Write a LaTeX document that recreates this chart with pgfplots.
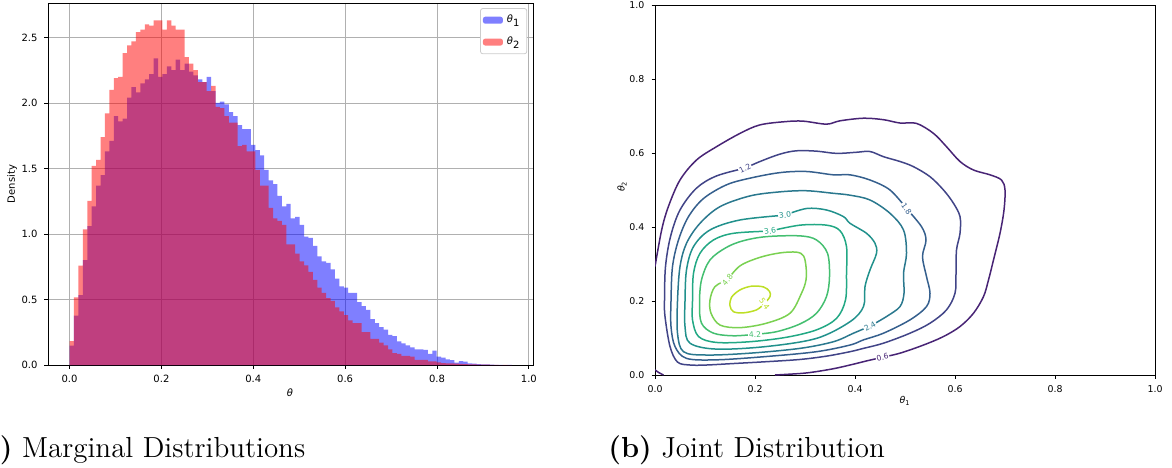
\documentclass[border=0pt]{standalone}
\usepackage{fontspec}
\usepackage{pgfplots}
\usepackage{pgfplotstable}
\pgfplotsset{compat=1.18}
\newfontfamily\mpl{DejaVu Sans}
\definecolor{gridc}{HTML}{B0B0B0}
\definecolor{legc}{HTML}{CCCCCC}
\definecolor{cA}{HTML}{482475}
\definecolor{cB}{HTML}{414487}
\definecolor{cC}{HTML}{355F8D}
\definecolor{cD}{HTML}{2A788E}
\definecolor{cE}{HTML}{21918C}
\definecolor{cF}{HTML}{22A884}
\definecolor{cG}{HTML}{44BF70}
\definecolor{cH}{HTML}{7AD151}
\definecolor{cI}{HTML}{BDDF26}

\pgfplotstableread{
x r b
0.0000 0.183 0.147
0.0096 0.517 0.377
0.0193 0.758 0.534
0.0289 1.036 0.800
0.0385 1.252 1.060
0.0482 1.520 1.210
0.0578 1.565 1.370
0.0674 1.740 1.450
0.0770 1.920 1.630
0.0867 2.100 1.710
0.0963 2.190 1.900
0.1059 2.200 1.860
0.1156 2.380 1.880
0.1252 2.440 2.040
0.1348 2.470 2.120
0.1445 2.540 2.080
0.1541 2.560 2.150
0.1637 2.600 2.180
0.1733 2.590 2.220
0.1830 2.630 2.340
0.1926 2.630 2.200
0.2022 2.560 2.220
0.2119 2.630 2.280
0.2215 2.590 2.250
0.2311 2.560 2.330
0.2408 2.560 2.250
0.2504 2.350 2.300
0.2600 2.300 2.240
0.2696 2.250 2.210
0.2793 2.160 2.180
0.2889 2.160 2.160
0.2985 2.090 2.200
0.3082 2.130 2.090
0.3178 1.970 2.000
0.3274 1.960 2.010
0.3371 1.900 1.990
0.3467 1.850 1.930
0.3563 1.850 1.900
0.3659 1.670 1.830
0.3756 1.680 1.800
0.3852 1.630 1.800
0.3948 1.630 1.680
0.4045 1.490 1.640
0.4141 1.370 1.600
0.4237 1.370 1.490
0.4334 1.200 1.410
0.4430 1.120 1.380
0.4526 1.100 1.290
0.4622 1.070 1.210
0.4719 0.920 1.230
0.4815 0.920 1.120
0.4911 0.850 1.130
0.5008 0.790 1.070
0.5104 0.760 0.980
0.5200 0.710 0.970
0.5297 0.650 0.910
0.5393 0.590 0.830
0.5489 0.550 0.790
0.5585 0.510 0.780
0.5682 0.490 0.730
0.5778 0.440 0.660
0.5874 0.410 0.600
0.5971 0.380 0.590
0.6067 0.340 0.550
0.6163 0.320 0.550
0.6260 0.320 0.480
0.6356 0.250 0.450
0.6452 0.250 0.420
0.6548 0.200 0.350
0.6645 0.200 0.320
0.6741 0.170 0.290
0.6837 0.150 0.270
0.6934 0.120 0.230
0.7030 0.090 0.220
0.7126 0.084 0.180
0.7223 0.070 0.165
0.7319 0.070 0.150
0.7415 0.064 0.135
0.7511 0.040 0.120
0.7608 0.040 0.120
0.7704 0.040 0.115
0.7800 0.028 0.084
0.7897 0.028 0.110
0.7993 0.020 0.064
0.8089 0.015 0.056
0.8186 0.013 0.043
0.8282 0.013 0.038
0.8378 0.010 0.018
0.8474 0.008 0.030
0.8571 0.006 0.025
0.8667 0.005 0.013
0.8763 0.004 0.010
0.8860 0.003 0.006
0.8956 0.002 0.005
0.9052 0.002 0.004
0.9149 0.001 0.002
0.9245 0.001 0.001
0.9341 0.000 0.001
0.9437 0.001 0.000
0.9534 0.000 0.001
0.9630 0.000 0.000
}\hist

\pgfplotsset{
  mplax/.style={
    scale only axis,
    axis line style={line width=0.4pt, black},
    tick align=outside, tick pos=left,
    major tick length=1.75pt,
    every tick/.style={black, line width=0.4pt},
    /pgf/number format/assume math mode=true,
  },
  cl/.style={line width=0.75pt, smooth, tension=0.55},
}
\tikzset{clab/.style={fill=white, inner sep=0.4pt, font=\mpl\fontsize{3.8}{4}\selectfont}}

\begin{document}
\begin{tikzpicture}
\path[use as bounding box] (0,0) rectangle (586pt,233.5pt);

% ---------------- (a) marginal distributions ----------------
\begin{axis}[mplax,
  at={(24pt,51pt)}, anchor=south west,
  width=242.5pt, height=181pt,
  xmin=-0.047, xmax=1.009, ymin=0, ymax=2.763,
  xtick={0,0.2,0.4,0.6,0.8,1.0},
  xticklabels={0.0,0.2,0.4,0.6,0.8,1.0},
  ytick={0,0.5,1.0,1.5,2.0,2.5},
  yticklabels={0.0,0.5,1.0,1.5,2.0,2.5},
  tick label style={font=\mpl\fontsize{5}{6}\selectfont},
  grid=major, grid style={gridc, line width=0.4pt},
  xlabel={\mpl\itshape θ},
  xlabel style={at={(axis description cs:0.499,-0.077)}, anchor=center, font=\fontsize{5}{6}\selectfont},
  ylabel={\mpl Density},
  ylabel style={at={(axis description cs:-0.074,0.5)}, anchor=center, rotate=0, font=\fontsize{5}{6}\selectfont},
  legend style={at={(0.988,0.986)}, anchor=north east, draw=legc, line width=0.4pt,
    rounded corners=1.2pt, fill=white, font=\mpl\fontsize{5}{6}\selectfont,
    inner sep=1.2pt, row sep=1.6pt, cells={anchor=west}},
  legend image code/.code={\fill[#1] (0pt,-1.75pt) rectangle (10pt,1.75pt);},
]
\addplot[const plot mark left, fill=blue, fill opacity=0.5, draw=none] table[x=x, y=b] {\hist} \closedcycle;
\addlegendentry{{\itshape θ}\textsubscript{1}}
\addplot[const plot mark left, fill=red, fill opacity=0.5, draw=none] table[x=x, y=r] {\hist} \closedcycle;
\addlegendentry{{\itshape θ}\textsubscript{2}}
\end{axis}

% ---------------- (b) joint distribution ----------------
\begin{axis}[mplax,
  at={(327.5pt,46pt)}, anchor=south west,
  width=250pt, height=185pt,
  xmin=0, xmax=1, ymin=0, ymax=1,
  xtick={0,0.2,0.4,0.6,0.8,1.0},
  xticklabels={0.0,0.2,0.4,0.6,0.8,1.0},
  ytick={0,0.2,0.4,0.6,0.8,1.0},
  yticklabels={0.0,0.2,0.4,0.6,0.8,1.0},
  tick label style={font=\mpl\fontsize{4.7}{5.6}\selectfont},
  xlabel={\mpl{\itshape θ}\textsubscript{1}},
  xlabel style={at={(axis description cs:0.5,-0.07)}, anchor=center, font=\fontsize{4.7}{5.6}\selectfont},
  ylabel={\mpl{\itshape θ}\textsubscript{2}},
  ylabel style={at={(axis description cs:-0.066,0.51)}, anchor=center, rotate=0, font=\fontsize{4.7}{5.6}\selectfont},
]
% level 0.6
\addplot[cl, cA] coordinates {
(0,0.293) (0.0133,0.392) (0.0267,0.455) (0.05,0.527) (0.083,0.581) (0.123,0.617)
(0.17,0.653) (0.21,0.676) (0.263,0.685) (0.297,0.686) (0.343,0.678) (0.37,0.687)
(0.417,0.694) (0.457,0.690) (0.49,0.681) (0.523,0.680) (0.557,0.653) (0.583,0.617)
(0.61,0.577) (0.637,0.554) (0.67,0.541) (0.693,0.527) (0.700,0.500) (0.698,0.446)
(0.690,0.383) (0.677,0.311) (0.667,0.257) (0.657,0.212) (0.637,0.167) (0.61,0.131)
(0.577,0.104) (0.537,0.081) (0.49,0.059) (0.455,0.048) (0.423,0.038) (0.39,0.027)
(0.357,0.017) (0.317,0.008) (0.29,0.004) (0.24,0.0)
};
\addplot[cl, cA] coordinates {(0,0.014) (0.007,0.007) (0.017,0)};
% level 1.2
\addplot[cl, cB] coordinates {
(0.18,0.559) (0.21,0.577) (0.25,0.597) (0.283,0.606) (0.323,0.605) (0.363,0.599)
(0.403,0.602) (0.43,0.604) (0.457,0.59) (0.49,0.577) (0.517,0.563) (0.55,0.536)
(0.577,0.5) (0.597,0.464) (0.61,0.428) (0.61,0.383) (0.603,0.338) (0.602,0.275)
(0.6,0.221) (0.583,0.176) (0.55,0.14) (0.51,0.113) (0.457,0.086) (0.417,0.072)
(0.39,0.063) (0.343,0.051) (0.29,0.042) (0.223,0.036) (0.157,0.031) (0.103,0.027)
(0.07,0.027) (0.045,0.035) (0.03,0.077) (0.02,0.158) (0.019,0.203) (0.021,0.293)
(0.031,0.374) (0.05,0.446) (0.083,0.505) (0.123,0.538) (0.18,0.559)
};
% level 1.8
\addplot[cl, cC] coordinates {
(0.503,0.45) (0.533,0.401) (0.542,0.365) (0.535,0.32) (0.543,0.266) (0.55,0.221)
(0.543,0.185) (0.51,0.149) (0.457,0.113) (0.417,0.095) (0.39,0.081) (0.323,0.063)
(0.223,0.05) (0.123,0.041) (0.063,0.045) (0.04,0.077) (0.032,0.131) (0.032,0.2)
(0.035,0.293) (0.047,0.365) (0.067,0.428) (0.097,0.477) (0.143,0.514) (0.19,0.532)
(0.25,0.547) (0.303,0.55) (0.357,0.541) (0.39,0.541) (0.43,0.527) (0.47,0.5) (0.503,0.45)
};
% level 2.4
\addplot[cl, cD] coordinates {
(0.43,0.132) (0.463,0.158) (0.49,0.185) (0.498,0.221) (0.497,0.275) (0.503,0.329)
(0.497,0.392) (0.47,0.437) (0.43,0.473) (0.39,0.486) (0.357,0.491) (0.303,0.498)
(0.25,0.495) (0.19,0.484) (0.13,0.455) (0.09,0.41) (0.063,0.356) (0.05,0.293)
(0.045,0.2) (0.045,0.113) (0.057,0.063) (0.103,0.054) (0.19,0.059) (0.29,0.072)
(0.357,0.09) (0.397,0.113) (0.43,0.132)
};
% level 3.0
\addplot[cl, cE] coordinates {
(0.26,0.432) (0.303,0.45) (0.343,0.446) (0.377,0.428) (0.39,0.41) (0.423,0.383)
(0.44,0.356) (0.443,0.329) (0.43,0.284) (0.42,0.239) (0.417,0.185) (0.39,0.144)
(0.323,0.099) (0.223,0.077) (0.123,0.07) (0.07,0.086) (0.06,0.131) (0.06,0.2)
(0.063,0.284) (0.077,0.347) (0.11,0.392) (0.17,0.419) (0.26,0.432)
};
% level 3.6
\addplot[cl, cF] coordinates {
(0.23,0.389) (0.29,0.405) (0.343,0.405) (0.37,0.39) (0.383,0.347) (0.383,0.275)
(0.381,0.203) (0.363,0.153) (0.323,0.122) (0.263,0.102) (0.19,0.09) (0.123,0.088)
(0.087,0.104) (0.075,0.149) (0.075,0.2) (0.077,0.275) (0.09,0.329) (0.117,0.365)
(0.157,0.383) (0.23,0.389)
};
% level 4.2
\addplot[cl, cG] coordinates {
(0.2,0.11) (0.243,0.117) (0.29,0.138) (0.323,0.167) (0.343,0.212) (0.349,0.266)
(0.345,0.329) (0.323,0.365) (0.29,0.376) (0.223,0.374) (0.177,0.363) (0.143,0.345)
(0.11,0.311) (0.093,0.257) (0.089,0.194) (0.093,0.14) (0.117,0.113) (0.157,0.106) (0.2,0.11)
};
% level 4.8
\addplot[cl, cH] coordinates {
(0.145,0.257) (0.17,0.295) (0.21,0.318) (0.25,0.33) (0.283,0.332) (0.297,0.322)
(0.302,0.293) (0.302,0.257) (0.293,0.221) (0.27,0.167) (0.223,0.14) (0.17,0.128)
(0.13,0.135) (0.112,0.167) (0.11,0.203) (0.12,0.239) (0.145,0.257)
};
% level 5.4
\addplot[cl, cI] coordinates {
(0.219,0.193) (0.203,0.176) (0.177,0.168) (0.157,0.171) (0.15,0.187) (0.153,0.21)
(0.17,0.23) (0.193,0.24) (0.217,0.238) (0.229,0.226) (0.23,0.212) (0.219,0.193)
};
% contour labels
\node[clab, text=cA, rotate=15]  at (axis cs:0.455,0.048) {0.6};
\node[clab, text=cB, rotate=27]  at (axis cs:0.18,0.559) {1.2};
\node[clab, text=cC, rotate=-55] at (axis cs:0.503,0.45) {1.8};
\node[clab, text=cD, rotate=30]  at (axis cs:0.43,0.132) {2.4};
\node[clab, text=cE, rotate=8]   at (axis cs:0.26,0.432) {3.0};
\node[clab, text=cF, rotate=10]  at (axis cs:0.23,0.389) {3.6};
\node[clab, text=cG, rotate=3]   at (axis cs:0.2,0.11) {4.2};
\node[clab, text=cH, rotate=50]  at (axis cs:0.145,0.257) {4.8};
\node[clab, text=cI, rotate=-55] at (axis cs:0.219,0.193) {5.4};
\end{axis}

% captions
\node[anchor=base west, inner sep=0] at (-14.5pt,5pt) {\fontsize{14.5}{17}\selectfont\textbf{(a)} Marginal Distributions};
\node[anchor=base west, inner sep=0] at (304pt,5pt) {\fontsize{14.5}{17}\selectfont\textbf{(b)} Joint Distribution};
\end{tikzpicture}
\end{document}
